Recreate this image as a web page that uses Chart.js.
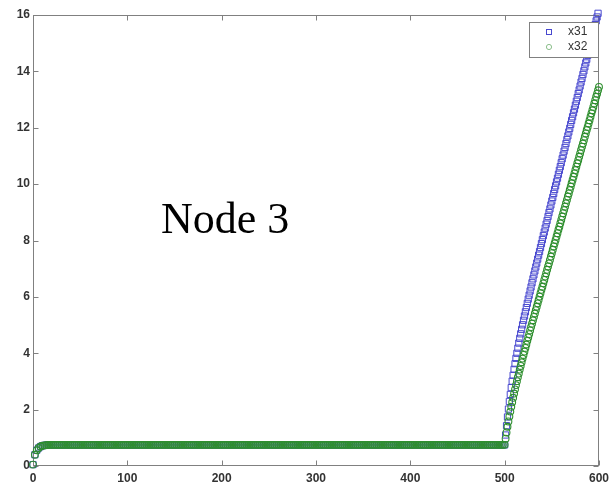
<!DOCTYPE html>
<html>
<head>
<meta charset="utf-8">
<title>Node 3</title>
<script src="https://cdn.jsdelivr.net/npm/chart.js@4/dist/chart.umd.min.js"></script>
<style>
  html, body { margin: 0; padding: 0; background: #fff; }
  #wrap { position: relative; width: 614px; height: 485px; }
</style>
</head>
<body>
<div id="wrap"><canvas id="nodeChart" width="614" height="485"></canvas></div>
<script>
// time steps for the settled part (every 2nd sample) and the ramp after t=500
const plateauT = [
  0,2,4,6,8,10,12,14,16,18,20,22,24,26,28,30,32,34,36,38,40,42,44,46,48,
  50,52,54,56,58,60,62,64,66,68,70,72,74,76,78,80,82,84,86,88,90,92,94,96,98,
  100,102,104,106,108,110,112,114,116,118,120,122,124,126,128,130,132,134,136,138,140,142,144,146,148,
  150,152,154,156,158,160,162,164,166,168,170,172,174,176,178,180,182,184,186,188,190,192,194,196,198,
  200,202,204,206,208,210,212,214,216,218,220,222,224,226,228,230,232,234,236,238,240,242,244,246,248,
  250,252,254,256,258,260,262,264,266,268,270,272,274,276,278,280,282,284,286,288,290,292,294,296,298,
  300,302,304,306,308,310,312,314,316,318,320,322,324,326,328,330,332,334,336,338,340,342,344,346,348,
  350,352,354,356,358,360,362,364,366,368,370,372,374,376,378,380,382,384,386,388,390,392,394,396,398,
  400,402,404,406,408,410,412,414,416,418,420,422,424,426,428,430,432,434,436,438,440,442,444,446,448,
  450,452,454,456,458,460,462,464,466,468,470,472,474,476,478,480,482,484,486,488,490,492,494,496,498
];
// x31 and x32 sit on the same value until t=500
const plateau = [
  0.05,0.40,0.56,0.64,0.69,0.72,0.73,0.74,0.75,0.75,0.75,0.75,0.75,0.75,0.75,0.75,0.75,0.75,0.75,0.75,0.75,0.75,0.75,0.75,0.75,
  0.75,0.75,0.75,0.75,0.75,0.75,0.75,0.75,0.75,0.75,0.75,0.75,0.75,0.75,0.75,0.75,0.75,0.75,0.75,0.75,0.75,0.75,0.75,0.75,0.75,
  0.75,0.75,0.75,0.75,0.75,0.75,0.75,0.75,0.75,0.75,0.75,0.75,0.75,0.75,0.75,0.75,0.75,0.75,0.75,0.75,0.75,0.75,0.75,0.75,0.75,
  0.75,0.75,0.75,0.75,0.75,0.75,0.75,0.75,0.75,0.75,0.75,0.75,0.75,0.75,0.75,0.75,0.75,0.75,0.75,0.75,0.75,0.75,0.75,0.75,0.75,
  0.75,0.75,0.75,0.75,0.75,0.75,0.75,0.75,0.75,0.75,0.75,0.75,0.75,0.75,0.75,0.75,0.75,0.75,0.75,0.75,0.75,0.75,0.75,0.75,0.75,
  0.75,0.75,0.75,0.75,0.75,0.75,0.75,0.75,0.75,0.75,0.75,0.75,0.75,0.75,0.75,0.75,0.75,0.75,0.75,0.75,0.75,0.75,0.75,0.75,0.75,
  0.75,0.75,0.75,0.75,0.75,0.75,0.75,0.75,0.75,0.75,0.75,0.75,0.75,0.75,0.75,0.75,0.75,0.75,0.75,0.75,0.75,0.75,0.75,0.75,0.75,
  0.75,0.75,0.75,0.75,0.75,0.75,0.75,0.75,0.75,0.75,0.75,0.75,0.75,0.75,0.75,0.75,0.75,0.75,0.75,0.75,0.75,0.75,0.75,0.75,0.75,
  0.75,0.75,0.75,0.75,0.75,0.75,0.75,0.75,0.75,0.75,0.75,0.75,0.75,0.75,0.75,0.75,0.75,0.75,0.75,0.75,0.75,0.75,0.75,0.75,0.75,
  0.75,0.75,0.75,0.75,0.75,0.75,0.75,0.75,0.75,0.75,0.75,0.75,0.75,0.75,0.75,0.75,0.75,0.75,0.75,0.75,0.75,0.75,0.75,0.75,0.75
];
const rampT = [
  500,501,502,503,504,505,506,507,508,509,510,511,512,513,514,515,516,517,518,519,
  520,521,522,523,524,525,526,527,528,529,530,531,532,533,534,535,536,537,538,539,
  540,541,542,543,544,545,546,547,548,549,550,551,552,553,554,555,556,557,558,559,
  560,561,562,563,564,565,566,567,568,569,570,571,572,573,574,575,576,577,578,579,
  580,581,582,583,584,585,586,587,588,589,590,591,592,593,594,595,596,597,598,599,
  600
];
const x31Ramp = [
  0.75,1.10,1.43,1.74,2.02,2.29,2.54,2.78,3.01,3.22,
  3.43,3.63,3.82,4.00,4.18,4.36,4.53,4.69,4.85,5.01,
  5.17,5.32,5.47,5.62,5.77,5.92,6.06,6.21,6.35,6.50,
  6.64,6.78,6.92,7.06,7.20,7.34,7.48,7.61,7.75,7.89,
  8.03,8.17,8.30,8.44,8.58,8.71,8.85,8.99,9.12,9.26,
  9.40,9.53,9.67,9.81,9.94,10.08,10.21,10.35,10.49,10.62,
  10.76,10.90,11.03,11.17,11.30,11.44,11.58,11.71,11.85,11.98,
  12.12,12.26,12.39,12.53,12.66,12.80,12.94,13.07,13.21,13.34,
  13.48,13.62,13.75,13.89,14.02,14.16,14.30,14.43,14.57,14.70,
  14.84,14.98,15.11,15.25,15.38,15.52,15.66,15.79,15.93,16.06,
  16.20
];
const x32Ramp = [
  0.75,0.97,1.19,1.39,1.58,1.76,1.93,2.10,2.26,2.42,
  2.57,2.72,2.87,3.01,3.15,3.28,3.42,3.55,3.68,3.81,
  3.94,4.06,4.19,4.31,4.44,4.56,4.68,4.81,4.93,5.05,
  5.17,5.29,5.41,5.53,5.65,5.77,5.89,6.01,6.13,6.25,
  6.36,6.48,6.60,6.72,6.84,6.96,7.08,7.19,7.31,7.43,
  7.55,7.67,7.79,7.90,8.02,8.14,8.26,8.38,8.49,8.61,
  8.73,8.85,8.97,9.08,9.20,9.32,9.44,9.56,9.67,9.79,
  9.91,10.03,10.15,10.26,10.38,10.50,10.62,10.74,10.85,10.97,
  11.09,11.21,11.33,11.44,11.56,11.68,11.80,11.92,12.03,12.15,
  12.27,12.39,12.51,12.62,12.74,12.86,12.98,13.10,13.21,13.33,
  13.45
];
const xTicks = [0, 100, 200, 300, 400, 500, 600];
const yTicks = [0, 2, 4, 6, 8, 10, 12, 14, 16];
const seriesNames = ['x31', 'x32'];

const blue = '#4848cf';
const green = '#2f8f2f';
const axisGrey = '#808080';

function points(ts, vals) {
  return ts.map((t, i) => ({ x: t, y: vals[i] }));
}

// box round the axes with the ticks turned inwards, as MATLAB draws it
const axesBox = {
  id: 'axesBox',
  beforeDatasetsDraw(chart) {
    const { ctx, chartArea: a, scales } = chart;
    const L = Math.round(a.left) + 0.5, R = Math.round(a.right) - 0.5;
    const T = Math.round(a.top) + 0.5, B = Math.round(a.bottom) - 0.5;
    ctx.save();
    ctx.strokeStyle = axisGrey;
    ctx.lineWidth = 1;
    ctx.strokeRect(L, T, R - L, B - T);
    ctx.beginPath();
    xTicks.forEach(v => {
      const px = Math.round(scales.x.getPixelForValue(v)) + 0.5;
      ctx.moveTo(px, B); ctx.lineTo(px, B - 5);
      ctx.moveTo(px, T); ctx.lineTo(px, T + 5);
    });
    yTicks.forEach(v => {
      const py = Math.round(scales.y.getPixelForValue(v)) + 0.5;
      ctx.moveTo(L, py); ctx.lineTo(L + 5, py);
      ctx.moveTo(R, py); ctx.lineTo(R - 5, py);
    });
    ctx.stroke();
    ctx.restore();
  },
  afterDraw(chart) {
    const ctx = chart.ctx;
    ctx.save();
    // title text inside the axes
    ctx.fillStyle = '#000';
    ctx.font = '44px "Liberation Serif", "Times New Roman", serif';
    ctx.textBaseline = 'alphabetic';
    ctx.fillText('Node 3', 161, 233);

    // legend box, top right
    ctx.fillStyle = '#fff';
    ctx.fillRect(529.5, 22.5, 69, 35);
    ctx.strokeStyle = axisGrey;
    ctx.lineWidth = 1;
    ctx.strokeRect(529.5, 22.5, 69, 35);
    ctx.strokeStyle = blue;
    ctx.strokeRect(546.5, 29.5, 5, 5);
    ctx.strokeStyle = '#8cbf8c';
    ctx.beginPath();
    ctx.arc(549, 47, 2.6, 0, Math.PI * 2);
    ctx.stroke();
    ctx.fillStyle = '#333';
    ctx.font = '12px "Liberation Sans", Arial, sans-serif';
    ctx.textBaseline = 'middle';
    ctx.fillText(seriesNames[0], 568, 32);
    ctx.fillText(seriesNames[1], 568, 47);
    ctx.restore();
  }
};

Chart.defaults.font.family = '"Liberation Sans", Arial, sans-serif';

new Chart(document.getElementById('nodeChart'), {
  type: 'scatter',
  data: {
    datasets: [
      {
        label: seriesNames[0],
        data: points(plateauT.concat(rampT), plateau.concat(x31Ramp)),
        pointStyle: 'rect',
        pointRadius: 4.4,
        borderColor: blue,
        backgroundColor: 'rgba(0,0,0,0)',
        borderWidth: 1,
        clip: false,
        order: 1
      },
      {
        label: seriesNames[1],
        data: points(plateauT.concat(rampT), plateau.concat(x32Ramp)),
        pointStyle: 'circle',
        pointRadius: 3.4,
        borderColor: green,
        backgroundColor: 'rgba(0,0,0,0)',
        borderWidth: 1.1,
        clip: false,
        order: 0
      }
    ]
  },
  options: {
    responsive: false,
    animation: false,
    devicePixelRatio: 1,
    layout: { padding: { left: 0, top: 15, right: 9.5, bottom: 0 } },
    plugins: { legend: { display: false }, tooltip: { enabled: false } },
    scales: {
      x: {
        type: 'linear',
        min: 0, max: 600,
        afterFit(s) { s.height = 19; },
        afterBuildTicks(s) { s.ticks = xTicks.map(v => ({ value: v })); },
        grid: { display: false, drawTicks: false },
        border: { display: false },
        ticks: { padding: 5, color: '#333', font: { size: 12, weight: 'bold' }, maxRotation: 0 }
      },
      y: {
        type: 'linear',
        min: 0, max: 16,
        afterFit(s) { s.width = 33; },
        afterBuildTicks(s) { s.ticks = yTicks.map(v => ({ value: v })); },
        grid: { display: false, drawTicks: false },
        border: { display: false },
        ticks: { padding: 3, color: '#333', font: { size: 12, weight: 'bold' } }
      }
    }
  },
  plugins: [axesBox]
});
</script>
</body>
</html>
